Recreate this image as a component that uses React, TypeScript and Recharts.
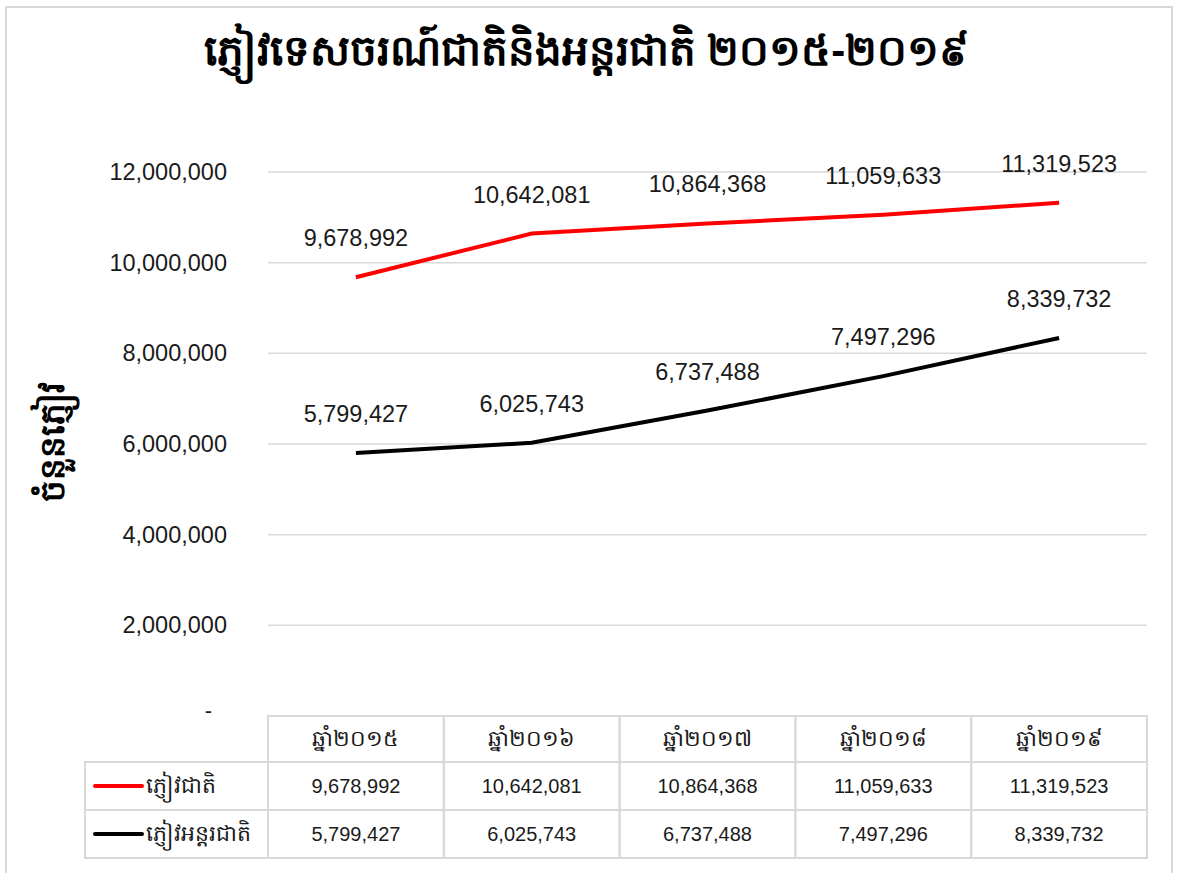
import React from 'react';
import { LineChart, Line, XAxis, YAxis, CartesianGrid, LabelList } from 'recharts';

const years = ['ឆ្នាំ២០១៥', 'ឆ្នាំ២០១៦', 'ឆ្នាំ២០១៧', 'ឆ្នាំ២០១៨', 'ឆ្នាំ២០១៩'];
const domestic = [9678992, 10642081, 10864368, 11059633, 11319523];
const international = [5799427, 6025743, 6737488, 7497296, 8339732];
const yTicks = [0, 2000000, 4000000, 6000000, 8000000, 10000000, 12000000];

const seriesNames = ['ភ្ញៀវជាតិ', 'ភ្ញៀវអន្តរជាតិ'];
const seriesColors = ['#ff0000', '#000000'];
const title = 'ភ្ញៀវទេសចរណ៍ជាតិនិងអន្តរជាតិ ២០១៥-២០១៩';
const yTitle = 'ចំនួនភ្ញៀវ';

const W = 1177;
const H = 873;
const PLOT_L = 268;
const PLOT_R = 1147;
const PLOT_T = 172;
const PLOT_B = 716;
const BAND = (PLOT_R - PLOT_L) / years.length;
const ROW1 = PLOT_B + 46;
const ROW2 = ROW1 + 48;
const ROW3 = ROW2 + 48;
const LEGEND_L = 85;

const data = years.map((y, i) => ({ year: y, domestic: domestic[i], international: international[i] }));

const fmt = (v: number) => v.toLocaleString('en-US');
const FONT = '"Liberation Sans", Arial, sans-serif';
const GRID = '#d9d9d9';
const TXT = '#1a1a1a';

const YTick = ({ y, payload }: any) =>
  payload.value === 0 ? (
    <text x={212} y={y} dy={2} textAnchor="end" fontSize={22} fontFamily={FONT} fill={TXT}>-</text>
  ) : (
    <text x={227} y={y} dy={8} textAnchor="end" fontSize={23.5} fontFamily={FONT} fill={TXT}>
      {fmt(payload.value)}
    </text>
  );

const TableTick = ({ x, index }: any) => {
  const l = x - BAND / 2;
  const cells = (
    <g>
      <rect x={l} y={PLOT_B} width={BAND} height={ROW3 - PLOT_B} fill="none" stroke={GRID} strokeWidth={2} />
      <line x1={l} x2={l + BAND} y1={ROW1} y2={ROW1} stroke={GRID} strokeWidth={2} />
      <line x1={l} x2={l + BAND} y1={ROW2} y2={ROW2} stroke={GRID} strokeWidth={2} />
      <text x={x} y={(PLOT_B + ROW1) / 2 + 7} textAnchor="middle" fontSize={22} fontFamily={FONT} fill={TXT}>
        {years[index]}
      </text>
      <text x={x} y={(ROW1 + ROW2) / 2 + 7} textAnchor="middle" fontSize={20} fontFamily={FONT} fill={TXT}>
        {fmt(domestic[index])}
      </text>
      <text x={x} y={(ROW2 + ROW3) / 2 + 7} textAnchor="middle" fontSize={20} fontFamily={FONT} fill={TXT}>
        {fmt(international[index])}
      </text>
    </g>
  );
  if (index !== 0) return cells;
  // legend column sits left of the first data column
  return (
    <g>
      {cells}
      <rect x={LEGEND_L} y={ROW1} width={l - LEGEND_L} height={ROW3 - ROW1} fill="none" stroke={GRID} strokeWidth={2} />
      <line x1={LEGEND_L} x2={l} y1={ROW2} y2={ROW2} stroke={GRID} strokeWidth={2} />
      {seriesNames.map((n, i) => {
        const cy = i === 0 ? (ROW1 + ROW2) / 2 : (ROW2 + ROW3) / 2;
        return (
          <g key={n}>
            <line x1={95} x2={142} y1={cy} y2={cy} stroke={seriesColors[i]} strokeWidth={4} strokeLinecap="round" />
            <text x={146} y={cy + 7} fontSize={22} fontFamily={FONT} fill={TXT}>{n}</text>
          </g>
        );
      })}
    </g>
  );
};

export default function App() {
  return (
    <div style={{ position: 'absolute', left: 0, top: 0, width: W, height: H, background: '#fff' }}>
      <div
        style={{
          position: 'absolute', left: 5, top: 6, width: 1168, height: 880,
          border: '2px solid #d9d9d9', boxSizing: 'border-box',
        }}
      />
      <div
        style={{
          position: 'absolute', left: 0, top: 24, width: W - 4, textAlign: 'center',
          fontSize: 42, fontWeight: 'bold', fontFamily: FONT, color: '#000',
        }}
      >
        {title}
      </div>
      <div
        style={{
          position: 'absolute', left: 56, top: 442, transform: 'translate(-50%, -50%) rotate(-90deg)',
          whiteSpace: 'nowrap', fontSize: 34, fontWeight: 'bold', fontFamily: FONT, color: '#000',
        }}
      >
        {yTitle}
      </div>
      <div style={{ position: 'absolute', left: 0, top: 0 }}>
        <LineChart
          width={W}
          height={H}
          data={data}
          margin={{ top: PLOT_T, right: W - PLOT_R, bottom: 0, left: 0 }}
        >
          <CartesianGrid vertical={false} stroke={GRID} strokeWidth={1.5} />
          <XAxis
            dataKey="year"
            height={H - PLOT_B}
            padding={{ left: BAND / 2, right: BAND / 2 }}
            axisLine={false}
            tickLine={false}
            interval={0}
            tick={<TableTick />}
          />
          <YAxis
            width={PLOT_L}
            domain={[0, 12000000]}
            ticks={yTicks}
            axisLine={false}
            tickLine={false}
            tick={<YTick />}
          />
          <Line
            type="linear"
            dataKey="domestic"
            stroke={seriesColors[0]}
            strokeWidth={4}
            dot={false}
            isAnimationActive={false}
          >
            <LabelList dataKey="domestic" position="top" offset={31} formatter={(v: any) => fmt(v)} fontSize={23.5} fontFamily={FONT} fill={TXT} />
          </Line>
          <Line
            type="linear"
            dataKey="international"
            stroke={seriesColors[1]}
            strokeWidth={4}
            dot={false}
            isAnimationActive={false}
          >
            <LabelList dataKey="international" position="top" offset={31} formatter={(v: any) => fmt(v)} fontSize={23.5} fontFamily={FONT} fill={TXT} />
          </Line>
        </LineChart>
      </div>
    </div>
  );
}
